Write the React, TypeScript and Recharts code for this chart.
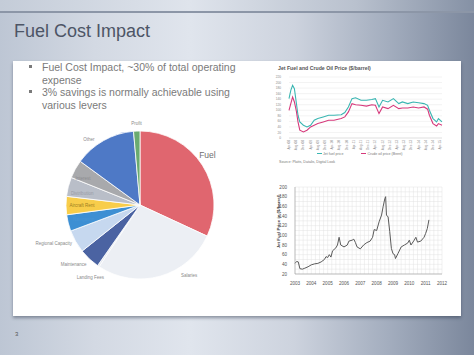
import React from 'react';
import { PieChart, Pie, Cell, LineChart, Line, XAxis, YAxis, CartesianGrid } from 'recharts';

const FONT = '"Liberation Sans", Arial, sans-serif';

// ---------- Pie: airline cost breakdown ----------
const costNames = ['Fuel', 'Salaries', 'Landing Fees', 'Maintenance', 'Regional Capacity', 'Navigation', 'Aircraft Rent', 'Distribution', 'Interest', 'Other', 'Profit'];
const costShares = [32, 27.5, 0.4, 4.6, 5, 3.6, 4, 4.2, 4, 13.6, 1.4];
const costColors = ['#e0666f', '#eceff4', '#e3e7ee', '#4b63a2', '#c6d8ef', '#3d8fd3', '#f8cd4a', '#b9bec8', '#a8a9ac', '#4e79c6', '#6aab70'];

// label style per slice: radius (px), angle shift (deg, recharts convention), anchor, size, colour
const pieLabelStyle: Record<string, { r: number; shift: number; anchor: string; size: number; fill: string }> = {
  'Fuel': { r: 84, shift: 4, anchor: 'middle', size: 8.5, fill: '#6f6f6f' },
  'Salaries': { r: 86, shift: 19, anchor: 'middle', size: 4.5, fill: '#8a8a8a' },
  'Landing Fees': { r: 88, shift: 0, anchor: 'middle', size: 4.5, fill: '#8a8a8a' },
  'Maintenance': { r: 89, shift: -5, anchor: 'middle', size: 4.5, fill: '#8a8a8a' },
  'Regional Capacity': { r: 78, shift: 0, anchor: 'end', size: 4.5, fill: '#8a8a8a' },
  'Navigation': { r: 58, shift: 0, anchor: 'middle', size: 4.5, fill: '#4795d6' },
  'Aircraft Rent': { r: 58, shift: 0, anchor: 'middle', size: 4.5, fill: '#9c7e22' },
  'Distribution': { r: 59, shift: 3, anchor: 'middle', size: 4.5, fill: '#989ca6' },
  'Interest': { r: 63, shift: 4, anchor: 'middle', size: 4.5, fill: '#8c8d91' },
  'Other': { r: 83, shift: 8.5, anchor: 'middle', size: 4.5, fill: '#8a8a8a' },
  'Profit': { r: 82, shift: 0, anchor: 'middle', size: 4.5, fill: '#8a8a8a' },
};

const pieData = costNames.map((name, i) => ({ name, value: costShares[i] }));

// ---------- Line chart 1: jet fuel vs brent ----------
const oilMonthIndex = [0, 1, 2, 3, 4, 5, 6, 8, 10, 12, 14, 16, 19, 22, 25, 29, 31, 33, 35, 37, 40, 43, 46, 48, 50, 52, 55, 58, 61, 63, 66, 69, 72, 75, 77, 78, 80, 82, 83, 85];
const jetFuelPrice = [142, 172, 190, 178, 130, 82, 58, 46, 40, 46, 64, 70, 76, 82, 82, 84, 92, 112, 142, 145, 136, 136, 139, 142, 112, 136, 130, 142, 124, 130, 124, 130, 127, 124, 118, 100, 70, 58, 70, 58];
const brentPrice = [100, 124, 148, 130, 100, 58, 28, 22, 28, 40, 46, 52, 58, 64, 64, 70, 76, 94, 124, 120, 118, 115, 120, 118, 88, 112, 106, 118, 106, 108, 108, 112, 108, 112, 104, 82, 52, 43, 52, 46];
const oilTickLabels = ['Apr-08', 'Aug-08', 'Dec-08', 'Apr-09', 'Aug-09', 'Dec-09', 'Apr-10', 'Aug-10', 'Dec-10', 'Apr-11', 'Aug-11', 'Dec-11', 'Apr-12', 'Aug-12', 'Dec-12', 'Apr-13', 'Aug-13', 'Dec-13', 'Apr-14', 'Aug-14', 'Dec-14', 'Apr-15'];
const oilYTicks = [0, 20, 40, 60, 80, 100, 120, 140, 160, 180, 200, 220];

const oilData = oilMonthIndex.map((m, i) => ({ m, jet: jetFuelPrice[i], brent: brentPrice[i] }));

// ---------- Line chart 2: jet fuel 2003-2011 ----------
const jetYears = [2003.0, 2003.1, 2003.2, 2003.3, 2003.45, 2003.6, 2003.8, 2004.0, 2004.2, 2004.4, 2004.6, 2004.8, 2004.9, 2005.0, 2005.1, 2005.2, 2005.3, 2005.5, 2005.6, 2005.7, 2005.8, 2006.0, 2006.2, 2006.3, 2006.5, 2006.6, 2006.7, 2006.8, 2007.0, 2007.2, 2007.4, 2007.6, 2007.75, 2007.85, 2008.0, 2008.15, 2008.3, 2008.4, 2008.5, 2008.55, 2008.6, 2008.7, 2008.8, 2008.9, 2009.0, 2009.1, 2009.15, 2009.3, 2009.5, 2009.7, 2009.9, 2010.0, 2010.1, 2010.3, 2010.4, 2010.5, 2010.7, 2010.9, 2011.0, 2011.1, 2011.2];
const jetPrice = [42, 46, 45, 31, 30, 32, 35, 39, 41, 42, 45, 50, 56, 54, 60, 55, 68, 74, 80, 96, 80, 76, 80, 88, 90, 92, 85, 76, 72, 80, 85, 88, 96, 112, 110, 128, 142, 160, 176, 180, 142, 138, 108, 73, 62, 60, 52, 62, 76, 80, 84, 90, 80, 90, 96, 86, 88, 96, 104, 114, 132];
const jetYearTicks = [2003, 2004, 2005, 2006, 2007, 2008, 2009, 2010, 2011, 2012];
const jetPriceTicks = [20, 40, 60, 80, 100, 120, 140, 160, 180, 200];

const jetData = jetYears.map((t, i) => ({ t, p: jetPrice[i] }));

const quarterTicks: number[] = [];
for (let y = 2003; y <= 2012.001; y += 0.25) quarterTicks.push(Math.round(y * 100) / 100);
const tenTicks: number[] = [];
for (let v = 20; v <= 200; v += 10) tenTicks.push(v);

const RAD = Math.PI / 180;

const renderPieLabel = (props: any) => {
  const { cx, cy, midAngle } = props;
  const name = props.name ?? props.payload?.name;
  const st = pieLabelStyle[name];
  if (!st) return null;
  const a = (midAngle + st.shift) * RAD;
  const x = cx + st.r * Math.cos(-a);
  const y = cy + st.r * Math.sin(-a);
  return (
    <text x={x} y={y} textAnchor={st.anchor as any} dominantBaseline="central" fontSize={st.size} fill={st.fill} fontFamily={FONT}>
      {name}
    </text>
  );
};

const RotTick = (props: any) => {
  const { x, y, payload } = props;
  const label = oilTickLabels[Math.round(payload.value / 4)];
  const ty = y - 6;
  return (
    <text x={x} y={ty} transform={`rotate(-90 ${x} ${ty})`} textAnchor="end" dominantBaseline="central" fontSize={3.2} fill="#8a8a8a" fontFamily={FONT}>
      {label}
    </text>
  );
};

const bullets = [
  'Fuel Cost Impact, ~30% of total operating expense',
  '3% savings is normally achievable using various levers',
];

export default function App() {
  return (
    <div style={{ position: 'absolute', left: 0, top: 0, width: 474, height: 355, overflow: 'hidden', fontFamily: FONT,
      background: 'linear-gradient(90deg, #bdc6d4 0%, #d3d9e3 20%, #e0e5ed 40%, #cdd3de 62%, #a3adbe 82%, #7b879c 100%)' }}>
      {/* top band */}
      <div style={{ position: 'absolute', left: 0, top: 0, width: 474, height: 11,
        background: 'linear-gradient(90deg, #c4ccd8 0%, #dfe4ec 40%, #b9c1ce 75%, #8591a5 100%)' }} />
      <div style={{ position: 'absolute', left: 0, top: 11, width: 474, height: 1.5, background: '#8c96a7' }} />

      {/* title */}
      <div style={{ position: 'absolute', left: 14, top: 21, fontSize: 18, color: '#4d5566', whiteSpace: 'nowrap' }}>Fuel Cost Impact</div>

      {/* white panel */}
      <div style={{ position: 'absolute', left: 13, top: 61, width: 448, height: 255, background: '#ffffff',
        boxShadow: '0 2px 3px rgba(40,50,70,0.45)' }} />

      {/* bullets */}
      {bullets.map((b, i) => (
        <React.Fragment key={i}>
          <div style={{ position: 'absolute', left: 29, top: 64.5 + i * 25, width: 3, height: 3, background: '#7a7a7a' }} />
          <div style={{ position: 'absolute', left: 42, top: 61 + i * 25, width: 200, fontSize: 10.5, lineHeight: '12.5px', color: '#7a7a7a' }}>{b}</div>
        </React.Fragment>
      ))}

      {/* pie chart */}
      <div style={{ position: 'absolute', left: 20, top: 100 }}>
        <PieChart width={230} height={200}>
          <Pie data={pieData} dataKey="value" nameKey="name" cx={115} cy={100} outerRadius={74} startAngle={90} endAngle={-270}
            stroke="#ffffff" strokeWidth={0.8} isAnimationActive={false} labelLine={false} label={renderPieLabel}>
            {pieData.map((d, i) => <Cell key={d.name} fill={costColors[i]} />)}
          </Pie>
        </PieChart>
      </div>

      {/* chart 1 title */}
      <div style={{ position: 'absolute', left: 278, top: 64.5, fontSize: 5.2, fontWeight: 'bold', color: '#555', whiteSpace: 'nowrap' }}>
        Jet Fuel and Crude Oil Price ($/barrel)
      </div>
      <div style={{ position: 'absolute', left: 260, top: 70 }}>
        <LineChart width={200} height={92} data={oilData} margin={{ top: 7, right: 18, bottom: 12, left: 15 }}>
          <CartesianGrid horizontal vertical={false} stroke="#e6e6e6" strokeWidth={0.5} />
          <XAxis dataKey="m" type="number" domain={[0, 85]} ticks={oilTickLabels.map((_, i) => i * 4)} tick={<RotTick />}
            tickLine={false} axisLine={{ stroke: '#d0d0d0', strokeWidth: 0.5 }} height={12} interval={0} />
          <YAxis type="number" domain={[0, 220]} ticks={oilYTicks} width={14} tickLine={false} axisLine={false}
            tick={{ fontSize: 3.2, fill: '#8a8a8a', fontFamily: FONT }} interval={0} />
          <Line type="linear" dataKey="jet" stroke="#3ab6b2" strokeWidth={1.1} dot={false} isAnimationActive={false} />
          <Line type="linear" dataKey="brent" stroke="#d6397b" strokeWidth={1.1} dot={false} isAnimationActive={false} />
        </LineChart>
      </div>
      {/* chart 1 legend & source */}
      <div style={{ position: 'absolute', left: 317, top: 151.5, display: 'flex', alignItems: 'center', fontSize: 3.6, color: '#777', whiteSpace: 'nowrap' }}>
        <span style={{ display: 'inline-block', width: 5, height: 1, background: '#3ab6b2', marginRight: 1 }} />
        <span style={{ marginRight: 18 }}>Jet fuel price</span>
        <span style={{ display: 'inline-block', width: 5, height: 1, background: '#d6397b', marginRight: 1 }} />
        <span>Crude oil price (Brent)</span>
      </div>
      <div style={{ position: 'absolute', left: 279, top: 159.5, fontSize: 3.6, color: '#777', whiteSpace: 'nowrap' }}>
        Source: Platts, Datalis, Digital Look
      </div>

      {/* chart 2 */}
      <div style={{ position: 'absolute', left: 262, top: 180 }}>
        <LineChart width={190} height={110} data={jetData} margin={{ top: 7, right: 10, bottom: 4, left: 8 }}>
          <CartesianGrid stroke="#e2e2e2" strokeWidth={0.5} />
          <XAxis dataKey="t" type="number" domain={[2003, 2012]} ticks={quarterTicks} interval={0} height={12}
            tickFormatter={(v: number) => (jetYearTicks.includes(v) ? String(v) : '')}
            tickLine={false} axisLine={{ stroke: '#9a9a9a', strokeWidth: 0.6 }}
            tick={{ fontSize: 4.6, fill: '#555', fontFamily: FONT }} />
          <YAxis type="number" domain={[20, 200]} ticks={tenTicks} interval={0} width={25}
            tickFormatter={(v: number) => (jetPriceTicks.includes(v) ? String(v) : '')}
            tickLine={false} axisLine={{ stroke: '#9a9a9a', strokeWidth: 0.6 }}
            tick={{ fontSize: 4.6, fill: '#555', fontFamily: FONT }} />
          <Line type="linear" dataKey="p" stroke="#5a5a5a" strokeWidth={1} dot={false} isAnimationActive={false} />
        </LineChart>
      </div>
      <div style={{ position: 'absolute', left: 278, top: 222, width: 0, height: 0 }}>
        <div style={{ position: 'absolute', left: -40, top: -3, width: 80, textAlign: 'center', transform: 'rotate(-90deg)',
          fontSize: 4.4, fontWeight: 'bold', color: '#444', whiteSpace: 'nowrap' }}>
          Jet Fuel Price in ($/barrel)
        </div>
      </div>

      {/* page number */}
      <div style={{ position: 'absolute', left: 15, top: 331, fontSize: 6, color: '#555' }}>3</div>
    </div>
  );
}
